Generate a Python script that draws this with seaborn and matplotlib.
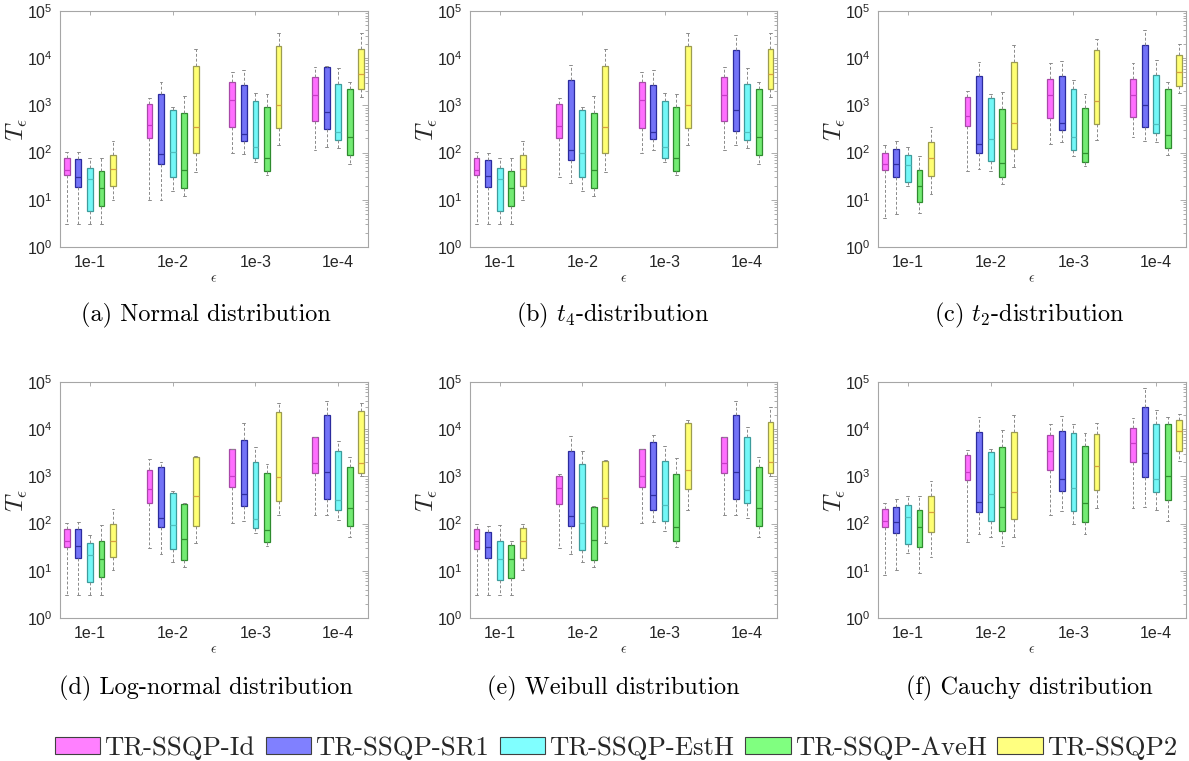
import numpy as np
import pandas as pd
import matplotlib
matplotlib.use("Agg")
import matplotlib.pyplot as plt
import seaborn as sns
from matplotlib.patches import Patch
from matplotlib.ticker import LogLocator, NullFormatter

# ---------------- data ----------------
eps_labels = ["1e-1", "1e-2", "1e-3", "1e-4"]
methods = ["TR-SSQP-Id", "TR-SSQP-SR1", "TR-SSQP-EstH", "TR-SSQP-AveH", "TR-SSQP2"]
captions = ["(a) Normal distribution", "(b) $t_4$-distribution", "(c) $t_2$-distribution",
            "(d) Log-normal distribution", "(e) Weibull distribution", "(f) Cauchy distribution"]

# per eps: per method [whisker_low, q1, median, q3, whisker_high]
normal_stats = [
    [[3, 33, 42, 76, 105], [3, 19, 31, 73, 105], [3, 5.7, 27, 48, 75], [3, 7.5, 18, 40, 78], [10, 20, 44, 90, 180]],
    [[10, 202, 380, 1060, 1420], [10, 57, 93, 1725, 3100], [15, 30, 102, 790, 920], [12, 18, 43, 684, 1565], [39, 97, 345, 6750, 15400]],
    [[100, 345, 1290, 3150, 5100], [93, 172, 246, 2680, 5560], [63, 75, 133, 1210, 1820], [33, 41, 75, 915, 1730], [144, 325, 1000, 17900, 34000]],
    [[111, 464, 1645, 3960, 6530], [129, 318, 718, 6450, 6860], [126, 184, 271, 2900, 6120], [57, 91, 212, 2200, 3150], [1540, 2275, 4650, 15900, 35000]],
]
t4_stats = [
    [[3, 33, 42, 76, 105], [3, 19, 32, 70, 100], [3, 5.7, 27, 48, 75], [3, 7.5, 18, 40, 78], [10, 20, 44, 90, 180]],
    [[31, 200, 370, 1060, 1420], [23, 70, 112, 3470, 7100], [15, 30, 100, 790, 920], [12, 18, 43, 690, 1565], [39, 97, 345, 6750, 15400]],
    [[100, 340, 1290, 3150, 5100], [115, 193, 270, 2680, 5560], [63, 75, 133, 1210, 1820], [33, 41, 75, 915, 1730], [144, 325, 1000, 17900, 34000]],
    [[111, 464, 1645, 3960, 6530], [144, 285, 790, 15000, 31000], [126, 184, 271, 2900, 6120], [57, 91, 212, 2200, 3150], [1540, 2275, 4650, 15900, 35000]],
]
t2_stats = [
    [[4.1, 43, 57, 100, 142], [5, 31, 57, 118, 172], [20, 24, 55, 90, 132], [5.2, 9.2, 20, 42, 85], [13, 32, 78, 167, 345]],
    [[40, 360, 600, 1520, 2040], [45, 100, 151, 4150, 8300], [40, 66, 193, 1420, 1730], [22, 30, 60, 850, 1900], [49, 120, 420, 8200, 19000]],
    [[150, 535, 1645, 3650, 7800], [164, 300, 420, 4250, 8700], [84, 111, 215, 2275, 3530], [53, 62, 97, 900, 1730], [186, 395, 1250, 14700, 25000]],
    [[215, 565, 1700, 3650, 7800], [178, 355, 1000, 18700, 39000], [170, 258, 400, 4350, 9000], [90, 123, 238, 2240, 3150], [1820, 2550, 5100, 11500, 19800]],
]
lognormal_stats = [
    [[3, 31.5, 43, 76, 101], [3, 19, 33, 78, 110], [3, 5.8, 21.5, 38, 57], [3, 7.3, 17.6, 42, 92], [10.5, 19.4, 42, 97, 204]],
    [[30, 270, 550, 1400, 2300], [22.5, 84, 130, 1580, 2040], [15, 29, 92, 450, 500], [12, 17, 47, 260, 275], [38, 87, 385, 2520, 2730]],
    [[101, 600, 1000, 3720, 3800], [112, 240, 416, 5950, 13800], [64, 80, 123, 1980, 4230], [33, 40, 73, 1200, 1820], [150, 300, 950, 23600, 36600]],
    [[150, 1200, 1900, 6900, 7000], [150, 325, 1270, 20000, 39700], [121, 195, 310, 3480, 5760], [53, 91, 215, 1600, 2600], [1030, 1200, 1880, 24800, 36600]],
]
weibull_stats = [
    [[3, 29, 43, 77, 97], [3, 19, 31.6, 68, 89], [3, 6.3, 18.2, 42, 92], [3, 7, 17.6, 35, 42], [10.5, 19, 42, 82, 98]],
    [[30, 265, 575, 1030, 1120], [22.5, 91, 143, 3480, 7350], [15, 28, 103, 1800, 3530], [12, 17, 44, 225, 236], [38, 87, 355, 2170, 2240]],
    [[101, 600, 1000, 3720, 3800], [110, 191, 397, 5480, 7700], [69, 115, 245, 2140, 4500], [32, 42, 84, 1140, 2430], [198, 530, 1400, 13400, 15900]],
    [[150, 1200, 1900, 6900, 7000], [150, 325, 1270, 20000, 39700], [130, 275, 505, 6900, 11200], [53, 91, 215, 1600, 2600], [1030, 1200, 2040, 14500, 30000]],
]
cauchy_stats = [
    [[8, 86, 112, 200, 278], [10.5, 62.5, 110, 230, 338], [23.6, 37, 141, 248, 390], [9, 31.6, 84, 192, 390], [19.5, 65.6, 173, 390, 785]],
    [[41, 850, 1270, 2820, 3600], [60, 180, 287, 8520, 17700], [51, 112, 418, 3220, 3900], [33, 69, 221, 4240, 9700], [51, 127, 460, 8900, 20000]],
    [[152, 1380, 3530, 7700, 12900], [188, 480, 870, 9350, 19000], [97, 188, 560, 8300, 12900], [60, 107, 270, 4450, 8300], [210, 505, 1650, 7950, 13700]],
    [[210, 1980, 5000, 10500, 17300], [223, 950, 3160, 30000, 74000], [198, 460, 870, 12600, 26000], [112, 315, 1000, 12600, 17700], [2140, 3530, 9100, 15500, 21300]],
]
panels = [normal_stats, t4_stats, t2_stats, lognormal_stats, weibull_stats, cauchy_stats]

# ---------------- style ----------------
fill_colors = dict(zip(methods, ["#FF6EFF", "#7373F7", "#73F7F7", "#73EB73", "#FFFF73"]))
edge_colors = dict(zip(methods, ["#A848A8", "#2B2B9E", "#3C9C9C", "#2E8B2E", "#9C9C50"]))
median_colors = dict(zip(methods, ["#C83CC8", "#3030A0", "#50C0C0", "#309030", "#D8A040"]))
legend_colors = ["#FF80FF", "#8080FF", "#80FFFF", "#80FF80", "#FFFF80"]

sns.set_theme(style="white")
plt.rcParams["font.family"] = ["Liberation Sans", "DejaVu Sans"]
plt.rcParams["mathtext.fontset"] = "custom"
plt.rcParams["mathtext.rm"] = "Liberation Sans"
plt.rcParams["mathtext.it"] = "Liberation Sans:italic"
plt.rcParams["mathtext.bf"] = "Liberation Sans:bold"

W, H = 1189, 761
fig = plt.figure(figsize=(W / 100, H / 100), dpi=100)
lefts = [60, 470, 878]
widths = [308, 307, 308]
tops = [11, 382]
ph = 236
cap_x = [206, 613, 1029]
cap_y = [315, 688]

for i, stats in enumerate(panels):
    r, c = divmod(i, 3)
    ax = fig.add_axes([lefts[c] / W, 1 - (tops[r] + ph) / H, widths[c] / W, ph / H])
    rows = []
    for j, eps in enumerate(eps_labels):
        for k, m in enumerate(methods):
            for v in stats[j][k]:
                rows.append({"eps": eps, "method": m, "T": v})
    df = pd.DataFrame(rows)
    for m in methods:
        sns.boxplot(data=df[df["method"] == m], x="eps", y="T", hue="method",
                    order=eps_labels, hue_order=methods, palette=fill_colors,
                    saturation=1, dodge=True, width=0.7, gap=0.5, whis=(0, 100),
                    showfliers=False, log_scale=True, linecolor=edge_colors[m],
                    linewidth=0.9, legend=False, ax=ax,
                    whiskerprops=dict(color="#8a8a8a", linestyle=(0, (3, 2)), linewidth=0.7),
                    capprops=dict(color="#8a8a8a", linewidth=0.7),
                    medianprops=dict(color=median_colors[m], linewidth=0.9))
    ax.set_xlim(-0.36, 3.36)
    ax.set_ylim(1, 1e5)
    ax.yaxis.set_major_locator(LogLocator(base=10, numticks=10))
    ax.yaxis.set_minor_locator(LogLocator(base=10, subs=np.arange(2, 10), numticks=10))
    ax.yaxis.set_minor_formatter(NullFormatter())
    ax.tick_params(axis="both", which="both", direction="in", top=True, right=True,
                   colors="#a0a0a0", labelcolor="#262626", labelsize=11.5, width=0.6)
    ax.tick_params(axis="y", which="major", length=4, pad=5)
    ax.tick_params(axis="y", which="minor", length=2)
    ax.tick_params(axis="x", which="major", length=3, pad=6)
    for s in ax.spines.values():
        s.set_visible(True)
        s.set_color("#a6a6a6")
        s.set_linewidth(0.8)
    ax.set_ylabel(r"$T_\epsilon$", fontsize=18, math_fontfamily="cm", color="#262626")
    ax.yaxis.label.set_va("center")
    ax.yaxis.set_label_coords(-43 / widths[c], 0.5)
    ax.set_xlabel(r"$\epsilon$", fontsize=10, math_fontfamily="cm", color="#262626")
    ax.xaxis.set_label_coords(0.5, -31 / ph)
    ax.xaxis.label.set_va("center")
    fig.text(cap_x[c] / W, 1 - cap_y[r] / H, captions[i], ha="center", va="center",
             family="cmr10", math_fontfamily="cm", fontsize=17.5, color="black")

handles = [Patch(facecolor=col, edgecolor="#404040", linewidth=0.8) for col in legend_colors]
fig.legend(handles, methods, loc="center", bbox_to_anchor=(616 / W, 1 - 748 / H), ncol=5,
           frameon=False, prop={"family": "cmr10", "size": 19.3}, handlelength=1.7,
           handleheight=0.6, handletextpad=0.15, columnspacing=0.4, borderpad=0.1)

fig.savefig("out.png", dpi=100)
